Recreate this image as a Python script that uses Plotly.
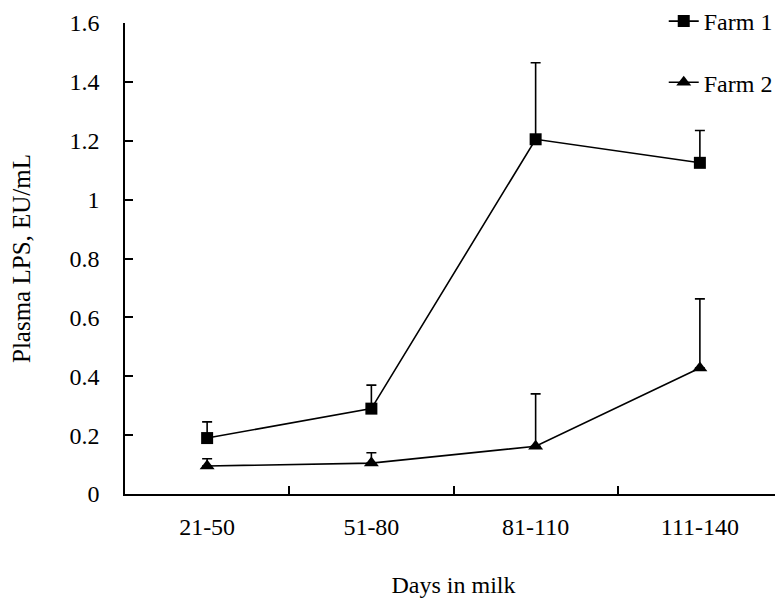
import plotly.graph_objects as go

categories = ["21-50", "51-80", "81-110", "111-140"]
farm1 = [0.19, 0.29, 1.205, 1.125]
farm1_err = [0.055, 0.08, 0.26, 0.11]
farm2 = [0.095, 0.105, 0.162, 0.428]
farm2_err = [0.025, 0.035, 0.178, 0.235]

FONT = "Liberation Serif"

fig = go.Figure()
fig.add_trace(go.Scatter(
    x=categories, y=farm1, name="Farm 1", mode="lines+markers",
    line=dict(color="black", width=1.6),
    marker=dict(symbol="square", size=12, color="black"),
    error_y=dict(type="data", array=farm1_err, symmetric=False,
                 arrayminus=[0]*4, color="black", thickness=1.6, width=5),
    legendgroup="g1",
))
fig.add_trace(go.Scatter(
    x=categories, y=farm2, name="Farm 2", mode="lines+markers",
    line=dict(color="black", width=1.6),
    marker=dict(symbol="triangle-up", size=13, color="black"),
    error_y=dict(type="data", array=farm2_err, symmetric=False,
                 arrayminus=[0]*4, color="black", thickness=1.6, width=5),
    legendgroup="g2",
))

# page body has an 8px margin, so the figure is sized 775x591
fig.update_layout(
    width=775, height=591,
    margin=dict(l=117, r=1, t=15, b=105, autoexpand=False),
    paper_bgcolor="white", plot_bgcolor="white",
    font=dict(family=FONT, size=24, color="black"),
    showlegend=True,
    legend=dict(x=0.82, y=1.051, xanchor="left", yanchor="top",
                traceorder="grouped", tracegroupgap=27,
                font=dict(family=FONT, size=24, color="black"),
                bgcolor="rgba(0,0,0,0)"),
    xaxis=dict(
        type="category", range=[-0.5, 3.5], automargin=False,
        showline=True, linecolor="black", linewidth=1.5,
        ticks="inside", ticklen=8, tickwidth=1.5, tickcolor="black",
        tickson="boundaries", ticklabelstandoff=10,
        showgrid=False, zeroline=False,
        title=dict(text="Days in milk", standoff=38,
                   font=dict(family=FONT, size=24)),
        tickfont=dict(family=FONT, size=24),
    ),
    yaxis=dict(
        range=[0, 1.6], dtick=0.2, tick0=0, automargin=False,
        showline=True, linecolor="black", linewidth=1.5,
        ticks="inside", ticklen=8, tickwidth=1.5, tickcolor="black",
        ticklabelstandoff=19,
        showgrid=False, zeroline=False,
        title=dict(text="Plasma LPS, EU/mL", standoff=37,
                   font=dict(family=FONT, size=25)),
        tickfont=dict(family=FONT, size=24),
    ),
)

fig.write_html("out.html")
